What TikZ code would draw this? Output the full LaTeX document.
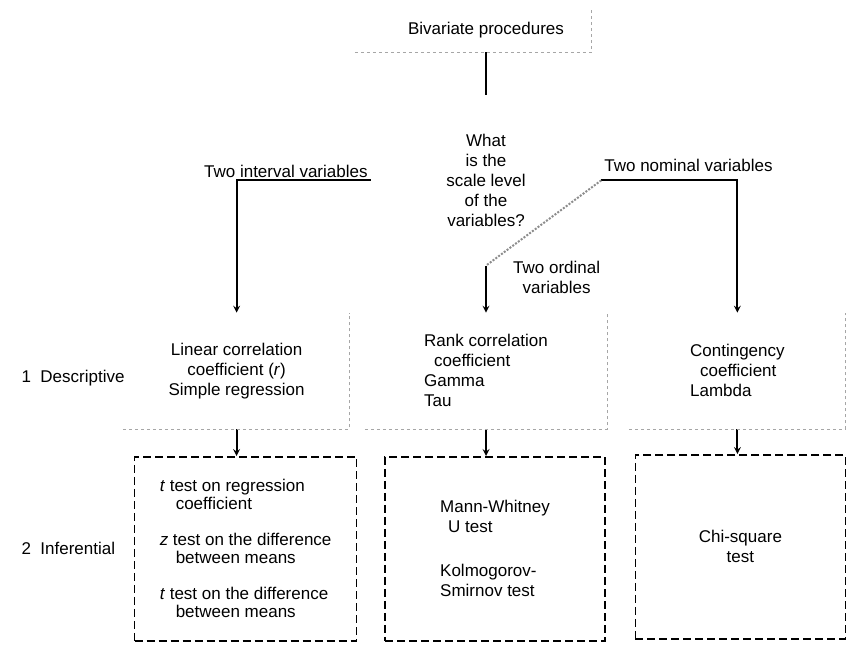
\documentclass[tikz,border=0pt]{standalone}
\usepackage{fontspec}
\setmainfont{Liberation Sans}
\usetikzlibrary{shapes,arrows,positioning,calc}

\begin{document}
\begin{tikzpicture}[
    x=1pt, y=1pt,
    font=\fontsize{17}{20}\selectfont,
    head/.style={rectangle, minimum width=210pt, minimum height=44pt},
    question/.style={diamond, aspect=1.35, inner sep=0pt, minimum width=230pt, minimum height=170pt, align=center},
    desc/.style={rectangle, minimum height=116pt, align=left},
    infer/.style={rectangle, draw, dash pattern=on 8pt off 4pt, line width=1.6pt, minimum height=184pt, align=left},
    lab/.style={inner sep=3pt},
    stage/.style={anchor=west},
    faint/.style={draw=black!35, dashed, line width=1pt},
    hatch/.style={draw=black!45, dash pattern=on 2pt off 1.5pt, line width=2pt},
    link/.style={line width=2pt},
    arrow/.style={->, >=stealth, line width=2pt}
]
    \useasboundingbox (0,0) rectangle (849,-645);

    \node[head] (top) at (486,-30) {Bivariate procedures};
    \node[question, below=43pt of top] (scale) {What\\is the\\scale level\\of the\\variables?};

    % level 1: descriptive
    \node[desc, minimum width=242pt, below=47pt of scale] (rank) {Rank correlation\\\hspace*{10pt}coefficient\\Gamma\\Tau};
    \node[desc, minimum width=226pt, align=center, left=15pt of rank] (lin) {Linear correlation\\coefficient (\textit{r})\\Simple regression};
    \node[desc, minimum width=216pt, right=22pt of rank] (cont) {Contingency\\\hspace*{10pt}coefficient\\Lambda};

    % level 2: inferential
    \node[infer, minimum width=222pt, below=27pt of lin, xshift=9pt, font=\fontsize{17}{18}\selectfont] (infl) {\textit{t} test on regression\\\hspace*{16pt}coefficient\\[18pt]\textit{z} test on the difference\\\hspace*{16pt}between means\\[18pt]\textit{t} test on the difference\\\hspace*{16pt}between means};
    \node[infer, minimum width=220pt, below=27pt of rank, xshift=9pt] (infr) {Mann-Whitney\\\hspace*{8pt}U test\\[24pt]Kolmogorov-\\Smirnov test};
    \node[infer, minimum width=210pt, below=25pt of cont, xshift=3pt, align=center] (infc) {Chi-square\\test};

    \node[stage] (d1) at (18,-378) {1\ \ Descriptive};
    \node[stage] (d2) at (18,-548) {2\ \ Inferential};

    \node[lab, anchor=south east] (ival) at (scale.west) {Two interval variables};
    \node[lab, anchor=south west, yshift=6pt] (nom) at (scale.east) {Two nominal variables};
    \node[lab, align=center, anchor=north west] (ord) at ([xshift=24pt, yshift=8pt]scale.south) {Two ordinal\\variables};

    \draw[link] (top) -- (scale);
    \draw[arrow] (scale.west) -| (lin);
    \draw[arrow] (scale.east) -| (cont);
    \draw[arrow] (scale) -- (rank);
    \draw[hatch] (scale.east) -- (scale.south);
    \draw[arrow] (lin) -- (lin |- infl.north);
    \draw[arrow] (rank) -- (rank |- infr.north);
    \draw[arrow] (cont) -- (cont |- infc.north);

    % faint box edges left by the scan
    \draw[faint] ([xshift=-26pt]top.south west) -- (top.south east) -- (top.north east);
    \foreach \n in {lin,rank,cont}
        \draw[faint] (\n.south west) -- (\n.south east) -- (\n.north east);
\end{tikzpicture}
\end{document}
